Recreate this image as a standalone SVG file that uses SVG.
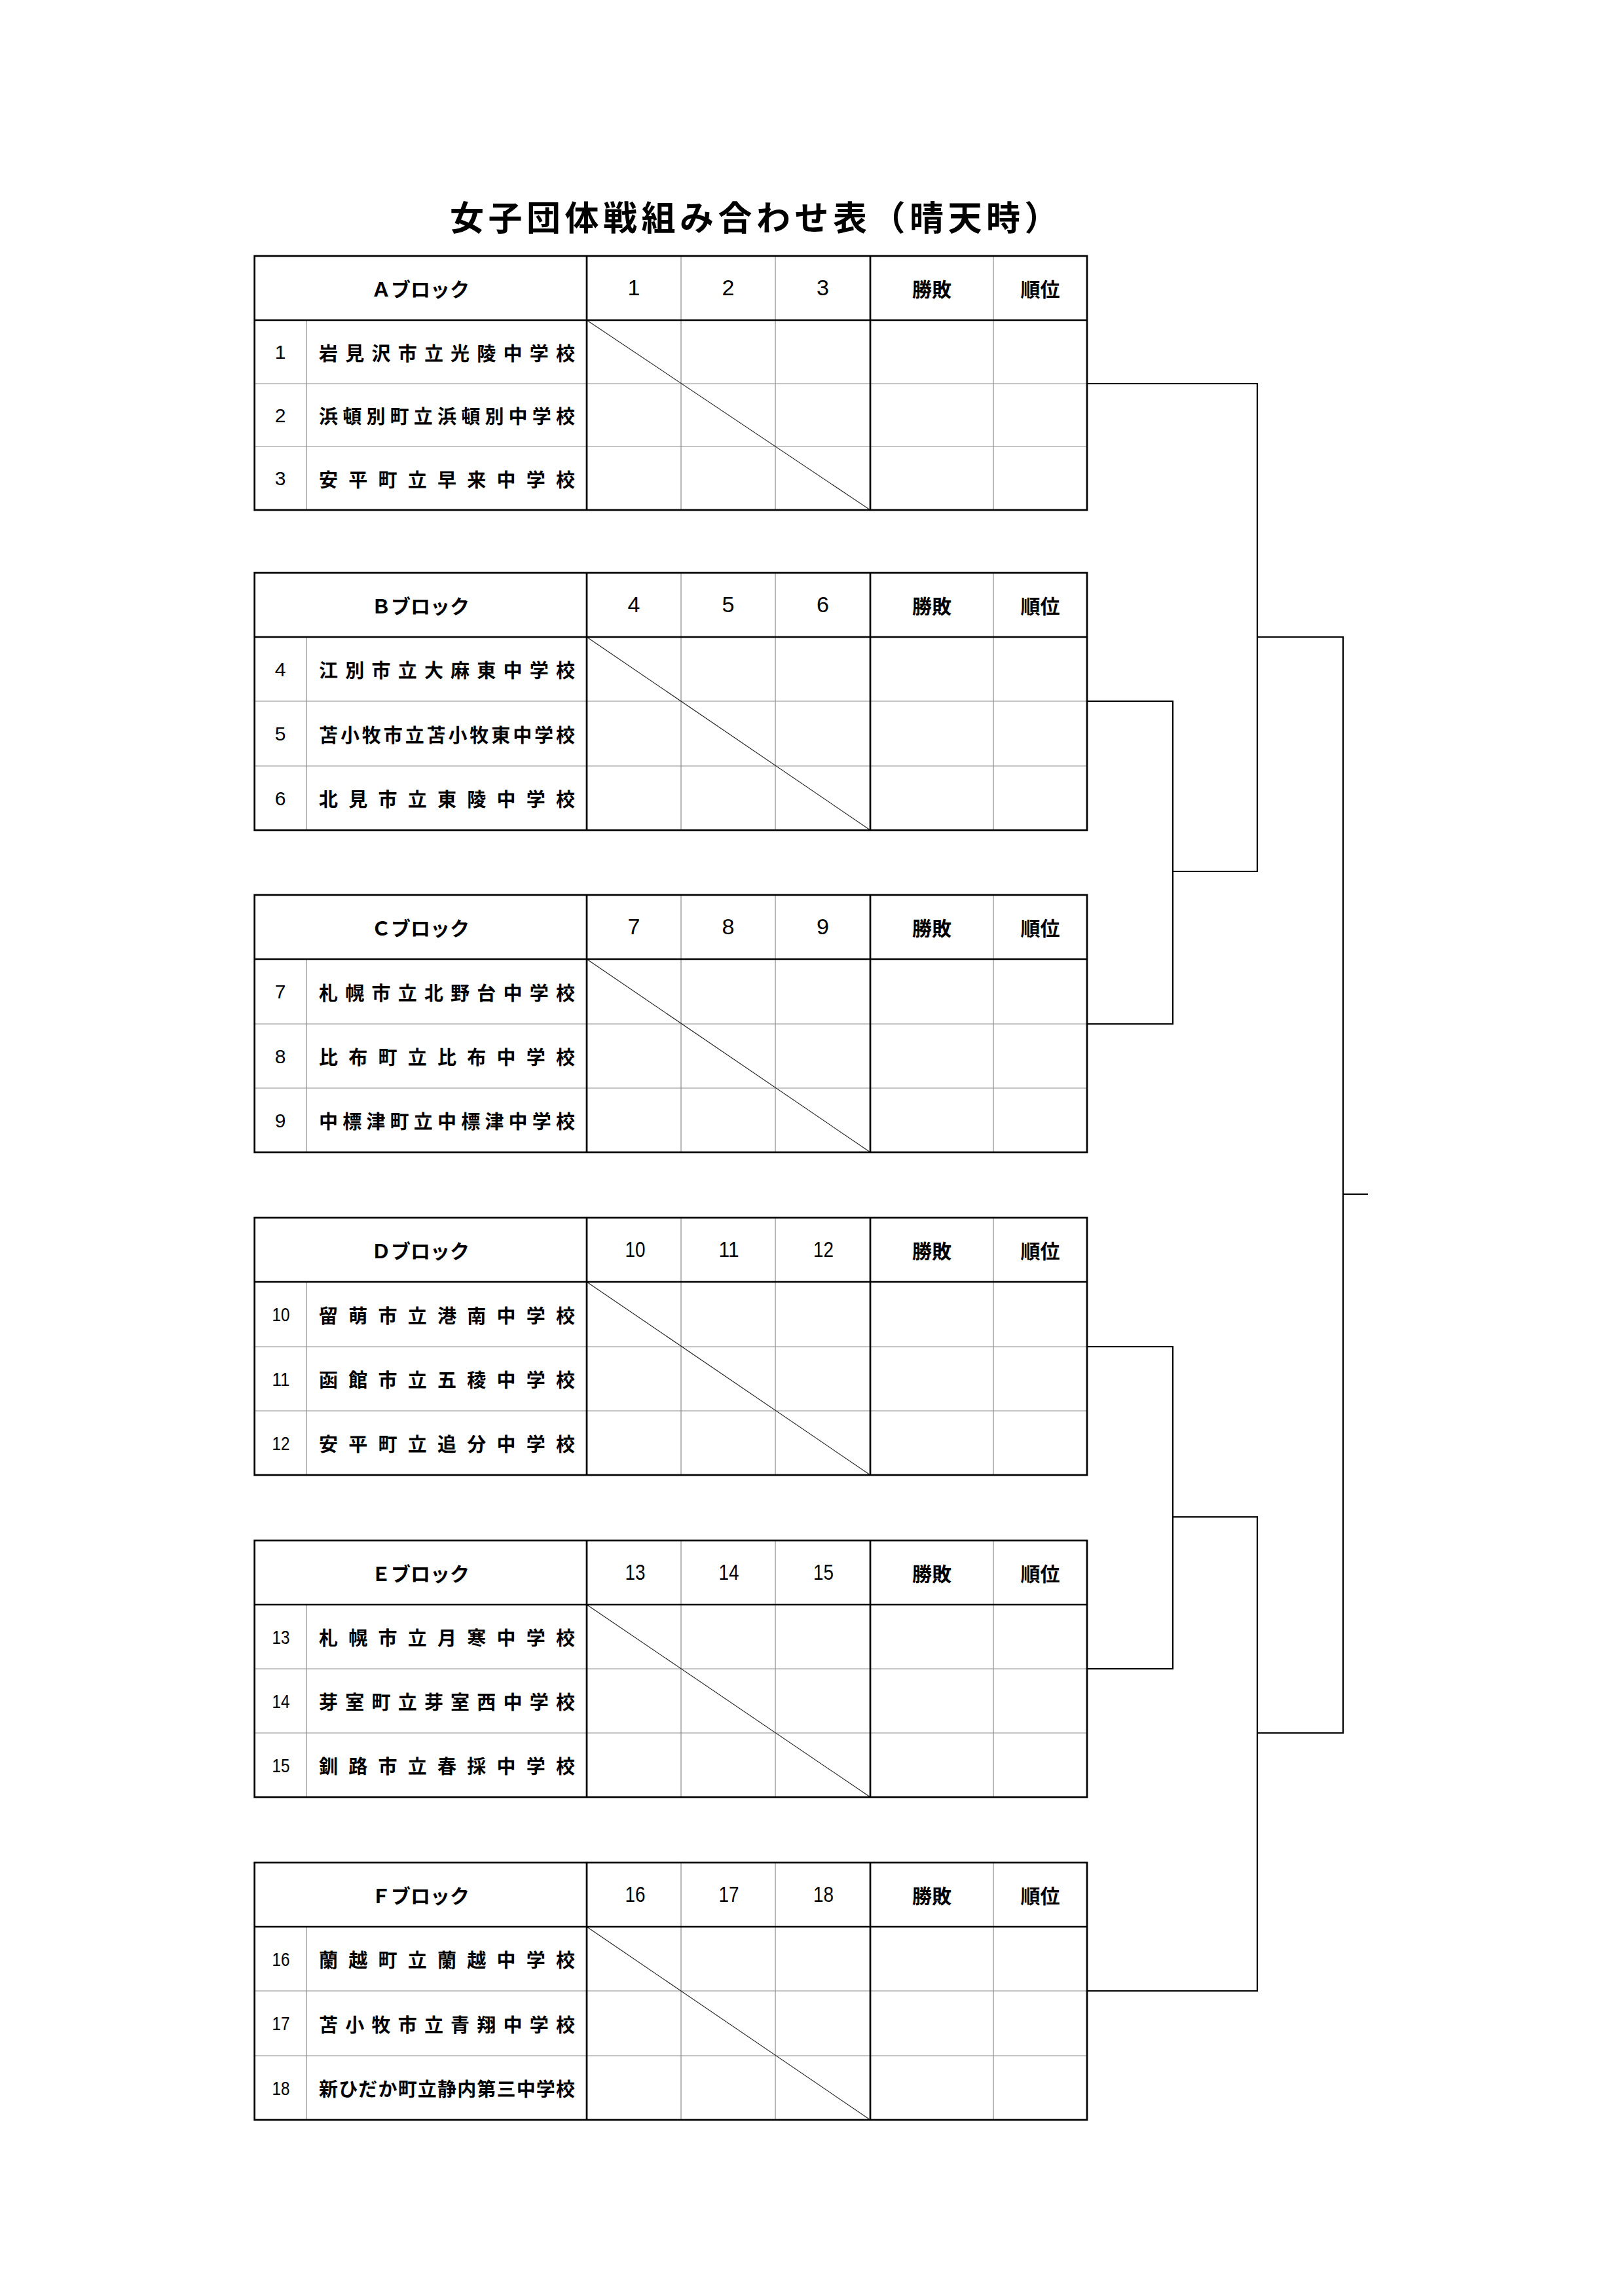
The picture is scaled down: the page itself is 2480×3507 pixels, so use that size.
<svg xmlns="http://www.w3.org/2000/svg" width="2480" height="3507" viewBox="0 0 2480 3507">
<style>
text{font-family:"Noto Sans CJK JP","Noto Sans CJK SC",sans-serif;fill:#000;dominant-baseline:central;font-weight:700}
.title{font-size:52px;letter-spacing:6.5px}
.h{font-size:30px;text-anchor:middle}
.hd{font-family:"Liberation Sans",Arial,sans-serif;font-size:34px;text-anchor:middle;font-weight:400}
.d{font-family:"Liberation Sans",Arial,sans-serif;font-size:30px;text-anchor:middle;font-weight:400}
.n{font-size:29px}
.thin{stroke:#8c8c8c;stroke-width:1.2;fill:none}
.thick{stroke:#000;stroke-width:2.7;fill:none}
.diag{stroke:#222;stroke-width:1.1;fill:none}
.conn path{stroke:#000;stroke-width:2.2;fill:none}
</style>
<rect width="2480" height="3507" fill="#fff"/>
<text class="title" x="687" y="329.7">女子団体戦組み合わせ表（晴天時）</text>

<g id="block-a">
<path class="thin" d="M388 586H1660M388 682H1660M468 489V779M1040 391V779M1184 391V779M1517 391V779"/>
<path class="diag" d="M896 489L1329 779"/>
<path class="thick" d="M388 489H1660M896 391V779M1329 391V779"/>
<rect class="thick" x="388.7" y="391" width="1271.3" height="388"/>
<text class="h" x="642" y="440">Ａブロック</text>
<text class="hd" x="968" y="439">1</text>
<text class="hd" x="1112" y="439">2</text>
<text class="hd" x="1256.5" y="439">3</text>
<text class="h" x="1423" y="440">勝敗</text>
<text class="h" x="1588.5" y="440">順位</text>
<text class="d" x="428" y="537.5">1</text>
<text class="d" x="428" y="634">2</text>
<text class="d" x="428" y="730.5">3</text>
<text class="n" x="487" y="537.5" textLength="391" lengthAdjust="spacing">岩見沢市立光陵中学校</text>
<text class="n" x="487" y="634" textLength="391" lengthAdjust="spacing">浜頓別町立浜頓別中学校</text>
<text class="n" x="487" y="730.5" textLength="391" lengthAdjust="spacing">安平町立早来中学校</text>
</g>

<g id="block-b">
<path class="thin" d="M388 1071H1660M388 1170H1660M468 973V1268M1040 875V1268M1184 875V1268M1517 875V1268"/>
<path class="diag" d="M896 973L1329 1268"/>
<path class="thick" d="M388 973H1660M896 875V1268M1329 875V1268"/>
<rect class="thick" x="388.7" y="875" width="1271.3" height="393"/>
<text class="h" x="642" y="924">Ｂブロック</text>
<text class="hd" x="968" y="923">4</text>
<text class="hd" x="1112" y="923">5</text>
<text class="hd" x="1256.5" y="923">6</text>
<text class="h" x="1423" y="924">勝敗</text>
<text class="h" x="1588.5" y="924">順位</text>
<text class="d" x="428" y="1022">4</text>
<text class="d" x="428" y="1120.5">5</text>
<text class="d" x="428" y="1219">6</text>
<text class="n" x="487" y="1022" textLength="391" lengthAdjust="spacing">江別市立大麻東中学校</text>
<text class="n" x="487" y="1120.5" textLength="391" lengthAdjust="spacing">苫小牧市立苫小牧東中学校</text>
<text class="n" x="487" y="1219" textLength="391" lengthAdjust="spacing">北見市立東陵中学校</text>
</g>

<g id="block-c">
<path class="thin" d="M388 1564H1660M388 1662H1660M468 1465V1760M1040 1367V1760M1184 1367V1760M1517 1367V1760"/>
<path class="diag" d="M896 1465L1329 1760"/>
<path class="thick" d="M388 1465H1660M896 1367V1760M1329 1367V1760"/>
<rect class="thick" x="388.7" y="1367" width="1271.3" height="393"/>
<text class="h" x="642" y="1416">Ｃブロック</text>
<text class="hd" x="968" y="1415">7</text>
<text class="hd" x="1112" y="1415">8</text>
<text class="hd" x="1256.5" y="1415">9</text>
<text class="h" x="1423" y="1416">勝敗</text>
<text class="h" x="1588.5" y="1416">順位</text>
<text class="d" x="428" y="1514.5">7</text>
<text class="d" x="428" y="1613">8</text>
<text class="d" x="428" y="1711">9</text>
<text class="n" x="487" y="1514.5" textLength="391" lengthAdjust="spacing">札幌市立北野台中学校</text>
<text class="n" x="487" y="1613" textLength="391" lengthAdjust="spacing">比布町立比布中学校</text>
<text class="n" x="487" y="1711" textLength="391" lengthAdjust="spacing">中標津町立中標津中学校</text>
</g>

<g id="block-d">
<path class="thin" d="M388 2057H1660M388 2155H1660M468 1958V2253M1040 1860V2253M1184 1860V2253M1517 1860V2253"/>
<path class="diag" d="M896 1958L1329 2253"/>
<path class="thick" d="M388 1958H1660M896 1860V2253M1329 1860V2253"/>
<rect class="thick" x="388.7" y="1860" width="1271.3" height="393"/>
<text class="h" x="642" y="1909">Ｄブロック</text>
<text class="hd" x="970" y="1908" textLength="31" lengthAdjust="spacingAndGlyphs">10</text>
<text class="hd" x="1113" y="1908" textLength="31" lengthAdjust="spacingAndGlyphs">11</text>
<text class="hd" x="1257.5" y="1908" textLength="31" lengthAdjust="spacingAndGlyphs">12</text>
<text class="h" x="1423" y="1909">勝敗</text>
<text class="h" x="1588.5" y="1909">順位</text>
<text class="d" x="429" y="2007.5" textLength="27" lengthAdjust="spacingAndGlyphs">10</text>
<text class="d" x="429" y="2106" textLength="27" lengthAdjust="spacingAndGlyphs">11</text>
<text class="d" x="429" y="2204" textLength="27" lengthAdjust="spacingAndGlyphs">12</text>
<text class="n" x="487" y="2007.5" textLength="391" lengthAdjust="spacing">留萌市立港南中学校</text>
<text class="n" x="487" y="2106" textLength="391" lengthAdjust="spacing">函館市立五稜中学校</text>
<text class="n" x="487" y="2204" textLength="391" lengthAdjust="spacing">安平町立追分中学校</text>
</g>

<g id="block-e">
<path class="thin" d="M388 2549H1660M388 2647H1660M468 2451V2745M1040 2353V2745M1184 2353V2745M1517 2353V2745"/>
<path class="diag" d="M896 2451L1329 2745"/>
<path class="thick" d="M388 2451H1660M896 2353V2745M1329 2353V2745"/>
<rect class="thick" x="388.7" y="2353" width="1271.3" height="392"/>
<text class="h" x="642" y="2402">Ｅブロック</text>
<text class="hd" x="970" y="2401" textLength="31" lengthAdjust="spacingAndGlyphs">13</text>
<text class="hd" x="1113" y="2401" textLength="31" lengthAdjust="spacingAndGlyphs">14</text>
<text class="hd" x="1257.5" y="2401" textLength="31" lengthAdjust="spacingAndGlyphs">15</text>
<text class="h" x="1423" y="2402">勝敗</text>
<text class="h" x="1588.5" y="2402">順位</text>
<text class="d" x="429" y="2500" textLength="27" lengthAdjust="spacingAndGlyphs">13</text>
<text class="d" x="429" y="2598" textLength="27" lengthAdjust="spacingAndGlyphs">14</text>
<text class="d" x="429" y="2696" textLength="27" lengthAdjust="spacingAndGlyphs">15</text>
<text class="n" x="487" y="2500" textLength="391" lengthAdjust="spacing">札幌市立月寒中学校</text>
<text class="n" x="487" y="2598" textLength="391" lengthAdjust="spacing">芽室町立芽室西中学校</text>
<text class="n" x="487" y="2696" textLength="391" lengthAdjust="spacing">釧路市立春採中学校</text>
</g>

<g id="block-f">
<path class="thin" d="M388 3041H1660M388 3140H1660M468 2943V3238M1040 2845V3238M1184 2845V3238M1517 2845V3238"/>
<path class="diag" d="M896 2943L1329 3238"/>
<path class="thick" d="M388 2943H1660M896 2845V3238M1329 2845V3238"/>
<rect class="thick" x="388.7" y="2845" width="1271.3" height="393"/>
<text class="h" x="642" y="2894">Ｆブロック</text>
<text class="hd" x="970" y="2893" textLength="31" lengthAdjust="spacingAndGlyphs">16</text>
<text class="hd" x="1113" y="2893" textLength="31" lengthAdjust="spacingAndGlyphs">17</text>
<text class="hd" x="1257.5" y="2893" textLength="31" lengthAdjust="spacingAndGlyphs">18</text>
<text class="h" x="1423" y="2894">勝敗</text>
<text class="h" x="1588.5" y="2894">順位</text>
<text class="d" x="429" y="2992" textLength="27" lengthAdjust="spacingAndGlyphs">16</text>
<text class="d" x="429" y="3090.5" textLength="27" lengthAdjust="spacingAndGlyphs">17</text>
<text class="d" x="429" y="3189" textLength="27" lengthAdjust="spacingAndGlyphs">18</text>
<text class="n" x="487" y="2992" textLength="391" lengthAdjust="spacing">蘭越町立蘭越中学校</text>
<text class="n" x="487" y="3090.5" textLength="391" lengthAdjust="spacing">苫小牧市立青翔中学校</text>
<text class="n" x="487" y="3189" textLength="391" lengthAdjust="spacing">新ひだか町立静内第三中学校</text>
</g>

<g id="connectors" class="conn">
<path d="M1660 586H1920V1331H1791"/>
<path d="M1660 1071H1791V1564H1660"/>
<path d="M1920 973H2051V2647H1920"/>
<path d="M2051 1824H2089"/>
<path d="M1660 2057H1791V2549H1660"/>
<path d="M1791 2317H1920V3041H1660"/>
</g>
</svg>
